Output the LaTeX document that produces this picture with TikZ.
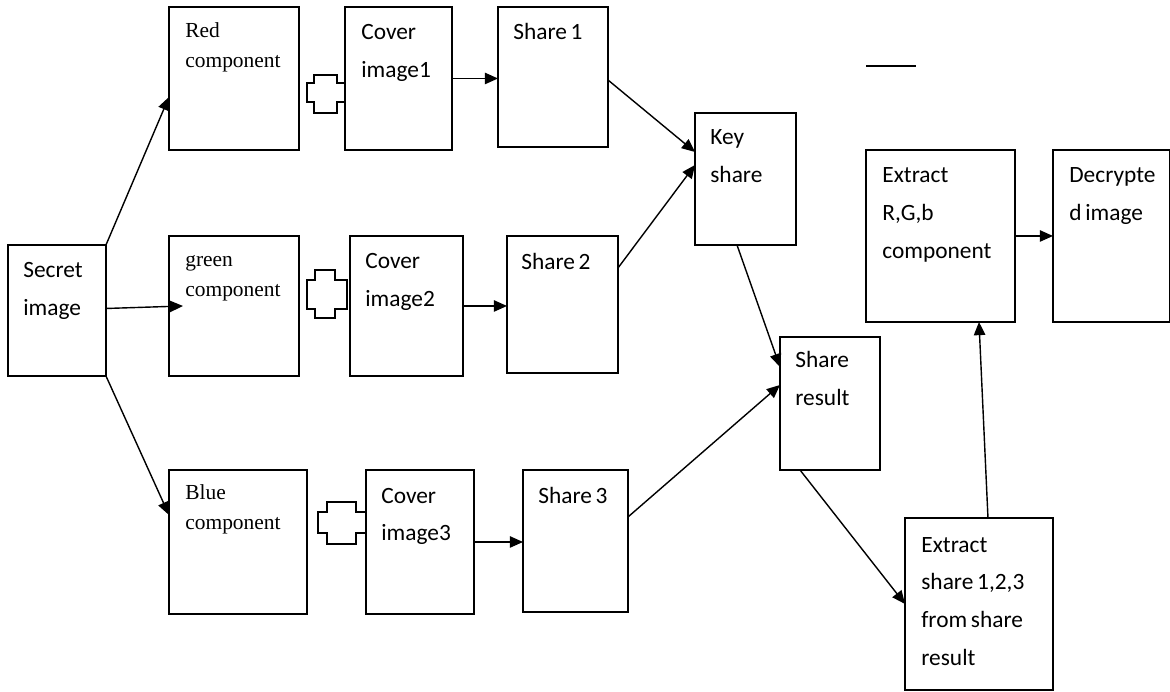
\documentclass[tikz,border=0pt]{standalone}
\usepackage{fontspec}
\setmainfont{Carlito}
\newfontfamily\cambria{Liberation Serif}
\usetikzlibrary{arrows.meta}

\tikzset{
  blk/.style={draw, line width=0.8pt, anchor=north west, inner sep=0pt, outer sep=0pt},
  lbl/.style={anchor=base west, inner sep=0pt, text width=3cm, align=flush left,
    font=\fontsize{13.3}{21.5}\selectfont, execute at begin node={\spaceskip=0.16em\relax}},
  slbl/.style={lbl, font=\cambria\fontsize{12.2}{17}\selectfont},
  arr/.style={line width=0.8pt, -{Triangle[length=7.5pt,width=6.5pt]}}
}

\begin{document}
\begin{tikzpicture}[x=0.02cm, y=-0.02cm]

\useasboundingbox (0,0) rectangle (1170,692);

% boxes
\node[blk, minimum width=1.96cm, minimum height=2.62cm] (secret) at (8,245) {};
\node[blk, minimum width=2.6cm, minimum height=2.86cm] (red) at (169,7) {};
\node[blk, minimum width=2.6cm, minimum height=2.8cm] (green) at (169,236) {};
\node[blk, minimum width=2.76cm, minimum height=2.88cm] (blue) at (169,470) {};
\node[blk, minimum width=2.14cm, minimum height=2.86cm] (cov1) at (345,7) {};
\node[blk, minimum width=2.26cm, minimum height=2.8cm] (cov2) at (350,236) {};
\node[blk, minimum width=2.16cm, minimum height=2.88cm] (cov3) at (366,470) {};
\node[blk, minimum width=2.2cm, minimum height=2.8cm] (sh1) at (498,7) {};
\node[blk, minimum width=2.22cm, minimum height=2.74cm] (sh2) at (507,236) {};
\node[blk, minimum width=2.1cm, minimum height=2.84cm] (sh3) at (523,470) {};
\node[blk, minimum width=2.02cm, minimum height=2.64cm] (key) at (695,113) {};
\node[blk, minimum width=2.0cm, minimum height=2.66cm] (res) at (780,337) {};
\node[blk, minimum width=2.98cm, minimum height=3.44cm] (exrgb) at (866,150) {};
\node[blk, minimum width=2.34cm, minimum height=3.44cm] (dec) at (1053,150) {};
\node[blk, minimum width=2.96cm, minimum height=3.44cm] (exsh) at (905,518) {};

% texts
\node[lbl] (secret-t) at ([shift={(15,33)}]secret.north west) {Secret\\image};
\node[slbl] (red-t) at ([shift={(16,31)}]red.north west) {Red\\component};
\node[slbl] (green-t) at ([shift={(16,31)}]green.north west) {green\\component};
\node[slbl] (blue-t) at ([shift={(16,30)}]blue.north west) {Blue\\component};
\node[lbl] (cov1-t) at ([shift={(16,33)}]cov1.north west) {Cover\\image1};
\node[lbl] (cov2-t) at ([shift={(15,33)}]cov2.north west) {Cover\\image2};
\node[lbl] (cov3-t) at ([shift={(15,33)}]cov3.north west) {Cover\\image3};
\node[lbl] (sh1-t) at ([shift={(15,33)}]sh1.north west) {Share 1};
\node[lbl] (sh2-t) at ([shift={(14,34)}]sh2.north west) {Share 2};
\node[lbl] (sh3-t) at ([shift={(15,33)}]sh3.north west) {Share 3};
\node[lbl] (key-t) at ([shift={(15,32)}]key.north west) {Key\\share};
\node[lbl] (res-t) at ([shift={(15,31)}]res.north west) {Share\\result};
\node[lbl] (exrgb-t) at ([shift={(16,33)}]exrgb.north west) {Extract\\R,G,b\\component};
\node[lbl] (dec-t) at ([shift={(16,33)}]dec.north west) {Decrypte\\d image};
\node[lbl] (exsh-t) at ([shift={(16,34)}]exsh.north west) {Extract\\share 1,2,3\\from share\\result};

% plus signs
\draw[line width=0.8pt] (345,83) -- (337,83) -- (337,75) -- (314,75) -- (314,83) -- (307,83)
  -- (307,102) -- (314,102) -- (314,113) -- (337,113) -- (337,102) -- (345,102);
\draw[line width=0.8pt] (347,280) -- (335,280) -- (335,270) -- (315,270) -- (315,280) -- (307,280)
  -- (307,309) -- (315,309) -- (315,318) -- (335,318) -- (335,309) -- (347,309) -- cycle;
\draw[line width=0.8pt] (366,512) -- (356,512) -- (356,502) -- (327,502) -- (327,512) -- (318,512)
  -- (318,533) -- (327,533) -- (327,544) -- (356,544) -- (356,533) -- (366,533);

% stray dash
\coordinate (d1) at (866,66);
\coordinate (d2) at (916,66);
\draw[line width=0.8pt] (d1) -- (d2);

% arrows
\draw[arr] (secret.north east) -- ([yshift=-0.37cm]red.west);
\draw[arr] ([yshift=0.04cm]secret.east) -- ([xshift=0.28cm]green.west);
\draw[arr] (secret.south east) -- ([yshift=0.54cm]blue.west);
\draw[arr] (cov1.east) -- (cov1.east -| sh1.west);
\draw[arr] (cov2.east) -- (cov2.east -| sh2.west);
\draw[arr] (cov3.east) -- (cov3.east -| sh3.west);
\draw[arr] ([yshift=-0.06cm]sh1.east) -- ([yshift=0.54cm]key.west);
\draw[arr] ([yshift=-0.64cm]sh2.north east) -- ([yshift=0.28cm]key.west);
\draw[arr] ([xshift=-0.17cm]key.south) -- ([yshift=0.73cm]res.west);
\draw[arr] ([yshift=0.48cm]sh3.east) -- ([yshift=0.37cm]res.west);
\draw[arr] ([xshift=-0.6cm]res.south) -- (exsh.west);
\draw[arr] ([xshift=0.18cm]exsh.north) -- ([xshift=0.77cm]exrgb.south);
\draw[arr] (exrgb.east) -- (dec.west);

\end{tikzpicture}
\end{document}
